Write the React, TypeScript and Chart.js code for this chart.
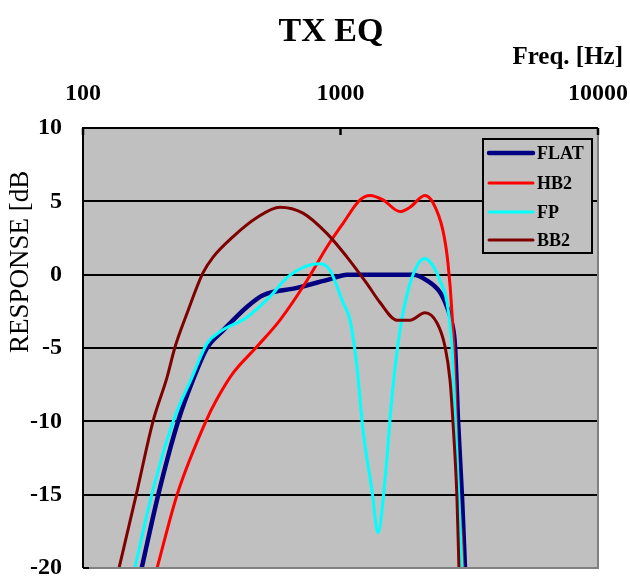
import React, { useEffect, useRef } from "react";
import { Chart, registerables } from "chart.js";

Chart.register(...registerables);

const FONT = '"Liberation Serif", "Times New Roman", serif';

const TITLE = "TX EQ";
const X_TITLE = "Freq. [Hz]";
const Y_TITLE = "RESPONSE [dB]";

const X_TICKS = [100, 1000, 10000];
const Y_MIN = -20;
const Y_MAX = 10;
const Y_STEP = 5;

const FLAT_FREQ = [169, 196, 234, 267, 303, 350, 433, 500, 678, 910, 1060, 1914, 2168, 2434, 2592, 2710, 2785, 2860, 2965, 3044];
const FLAT_DB = [-20, -15, -10, -7.2, -5, -3.8, -2.2, -1.4, -0.9, -0.3, 0, 0, -0.4, -1.2, -2.2, -3.3, -4.9, -9.9, -15.2, -20];

const HB2_FREQ = [194, 232, 300, 331, 383, 474, 582, 741, 887, 1023, 1191, 1302, 1462, 1702, 1862, 2128, 2287, 2500, 2614, 2710, 2785, 2860, 2965, 2990];
const HB2_DB = [-20, -15, -10, -8.5, -6.7, -4.9, -3.1, -0.4, 1.9, 3.5, 5.1, 5.4, 5.1, 4.3, 4.6, 5.4, 4.9, 3.0, 0.8, -2.6, -7.2, -14, -18.6, -20];

const FP_FREQ = [159, 185, 224, 265, 303, 340, 433, 532, 620, 741, 832, 910, 1023, 1089, 1159, 1223, 1325, 1399, 1489, 1585, 1702, 1828, 1982, 2128, 2287, 2434, 2592, 2710, 2785, 2860, 2965];
const FP_DB = [-20, -15, -10, -7, -4.7, -3.9, -2.9, -1.5, -0.2, 0.6, 0.75, 0.3, -1.9, -3.1, -6.3, -10.6, -14.7, -17.6, -14, -8.3, -3.8, -1.1, 0.6, 1.1, 0.6, -0.4, -1.9, -4.9, -9.4, -14, -20];

const BB2_FREQ = [138, 161, 187, 212, 228, 254, 292, 320, 383, 474, 582, 715, 887, 1060, 1265, 1424, 1657, 1862, 2128, 2371, 2546, 2663, 2735, 2833, 2884];
const BB2_DB = [-20, -15, -10, -7, -4.9, -2.6, 0.1, 1.2, 2.6, 3.9, 4.6, 4.2, 2.8, 1.2, -0.6, -1.9, -3.1, -3.1, -2.6, -3.3, -4.9, -7.2, -10.1, -15.2, -20];

const SERIES_LABELS = ["FLAT", "HB2", "FP", "BB2"];
const SERIES_COLORS = ["#000080", "#FF0000", "#00FFFF", "#800000"];
const SERIES_WIDTHS = [4.5, 3, 3, 3];

const pts = (xs: number[], ys: number[]) => xs.map((x, i) => ({ x, y: ys[i] }));

const decor = {
  id: "decor",
  beforeDraw(chart: any) {
    const { ctx, chartArea: a } = chart;
    ctx.save();
    ctx.fillStyle = "#FFFFFF";
    ctx.fillRect(0, 0, chart.width, chart.height);
    ctx.fillStyle = "#C0C0C0";
    ctx.fillRect(a.left, a.top, a.right - a.left, a.bottom - a.top);
    ctx.restore();
  },
  afterDatasetsDraw(chart: any) {
    const { ctx, chartArea: a } = chart;
    ctx.save();
    ctx.lineWidth = 2;
    ctx.strokeStyle = "#808080";
    ctx.beginPath();
    ctx.moveTo(a.left, a.bottom);
    ctx.lineTo(a.right, a.bottom);
    ctx.lineTo(a.right, a.top);
    ctx.stroke();
    ctx.strokeStyle = "#000000";
    ctx.beginPath();
    ctx.moveTo(a.left, a.bottom);
    ctx.lineTo(a.left, a.top);
    ctx.lineTo(a.right, a.top);
    ctx.stroke();
    const xs = chart.scales.x;
    ctx.lineWidth = 2.5;
    X_TICKS.forEach((v) => {
      const px = xs.getPixelForValue(v);
      ctx.beginPath();
      ctx.moveTo(px, a.top);
      ctx.lineTo(px, a.top + 7);
      ctx.stroke();
    });
    ctx.lineWidth = 2;
    ctx.beginPath();
    ctx.moveTo(a.left, a.bottom);
    ctx.lineTo(a.left + 6, a.bottom);
    ctx.stroke();
    ctx.restore();
  },
  afterDraw(chart: any) {
    const { ctx } = chart;
    ctx.save();
    ctx.fillStyle = "#000";
    ctx.font = `bold 34px ${FONT}`;
    ctx.textAlign = "center";
    ctx.textBaseline = "alphabetic";
    ctx.fillText(TITLE, 331, 41);
    ctx.font = `bold 25px ${FONT}`;
    ctx.textAlign = "right";
    ctx.fillText(X_TITLE, 623, 64);
    ctx.save();
    ctx.beginPath();
    ctx.rect(0, 170, 60, 400);
    ctx.clip();
    ctx.translate(28, 353);
    ctx.rotate(-Math.PI / 2);
    ctx.font = `27px ${FONT}`;
    ctx.textAlign = "left";
    ctx.fillText(Y_TITLE, 0, 0);
    ctx.restore();
    const lx = 483, ly = 139, lw = 109, lh = 114;
    ctx.fillStyle = "#C0C0C0";
    ctx.fillRect(lx, ly, lw, lh);
    ctx.strokeStyle = "#000";
    ctx.lineWidth = 2;
    ctx.strokeRect(lx, ly, lw, lh);
    const rows = [153, 183, 212, 240];
    chart.data.datasets.forEach((ds: any, i: number) => {
      const y = rows[i];
      ctx.strokeStyle = ds.borderColor;
      ctx.lineWidth = ds.borderWidth;
      ctx.lineCap = "round";
      ctx.beginPath();
      ctx.moveTo(489, y);
      ctx.lineTo(533, y);
      ctx.stroke();
      ctx.fillStyle = "#000";
      ctx.font = `bold 18px ${FONT}`;
      ctx.textAlign = "left";
      ctx.textBaseline = "middle";
      ctx.fillText(ds.label, 537, y + 1);
    });
    ctx.restore();
  },
};

export default function App() {
  const ref = useRef<HTMLCanvasElement | null>(null);
  useEffect(() => {
    if (!ref.current) return;
    const series = [
      pts(FLAT_FREQ, FLAT_DB),
      pts(HB2_FREQ, HB2_DB),
      pts(FP_FREQ, FP_DB),
      pts(BB2_FREQ, BB2_DB),
    ];
    const chart = new Chart(ref.current, {
      type: "line",
      data: {
        datasets: series.map((data, i) => ({
          label: SERIES_LABELS[i],
          data,
          borderColor: SERIES_COLORS[i],
          backgroundColor: SERIES_COLORS[i],
          borderWidth: SERIES_WIDTHS[i],
          pointRadius: 0,
          cubicInterpolationMode: "monotone" as const,
          fill: false,
          order: SERIES_LABELS.length - i,
        })),
      },
      options: {
        animation: false,
        responsive: false,
        maintainAspectRatio: false,
        devicePixelRatio: 1,
        layout: { padding: { left: 0, top: 0, right: 32, bottom: 10 } },
        plugins: { legend: { display: false }, tooltip: { enabled: false }, title: { display: false } },
        scales: {
          x: {
            type: "logarithmic",
            position: "top",
            min: 100,
            max: 10000,
            afterBuildTicks: (scale: any) => {
              scale.ticks = X_TICKS.map((v) => ({ value: v }));
            },
            afterFit: (scale: any) => {
              scale.height = 128;
              scale.paddingLeft = 0;
              scale.paddingRight = 0;
              scale.paddingTop = 0;
              scale.paddingBottom = 0;
            },
            grid: { display: false },
            border: { display: false },
            ticks: {
              autoSkip: false,
              maxRotation: 0,
              padding: 12,
              color: "#000",
              font: { family: FONT, size: 24, weight: "bold" },
              callback: (v: any) => String(v),
            },
          },
          y: {
            min: Y_MIN,
            max: Y_MAX,
            afterFit: (scale: any) => {
              scale.width = 83;
              scale.paddingLeft = 0;
              scale.paddingRight = 0;
              scale.paddingTop = 0;
              scale.paddingBottom = 0;
            },
            grid: {
              drawTicks: false,
              lineWidth: 2,
              color: (c: any) => (c.tick && c.tick.value === Y_MIN ? "#808080" : "#000000"),
            },
            border: { display: false },
            ticks: {
              stepSize: Y_STEP,
              padding: 21,
              color: "#000",
              font: { family: FONT, size: 24, weight: "bold" },
            },
          },
        },
      },
      plugins: [decor],
    });
    return () => chart.destroy();
  }, []);
  return (
    <div style={{ position: "fixed", left: 0, top: 0, width: 630, height: 578, background: "#fff" }}>
      <canvas ref={ref} width={630} height={578} style={{ width: 630, height: 578, display: "block" }} />
    </div>
  );
}
